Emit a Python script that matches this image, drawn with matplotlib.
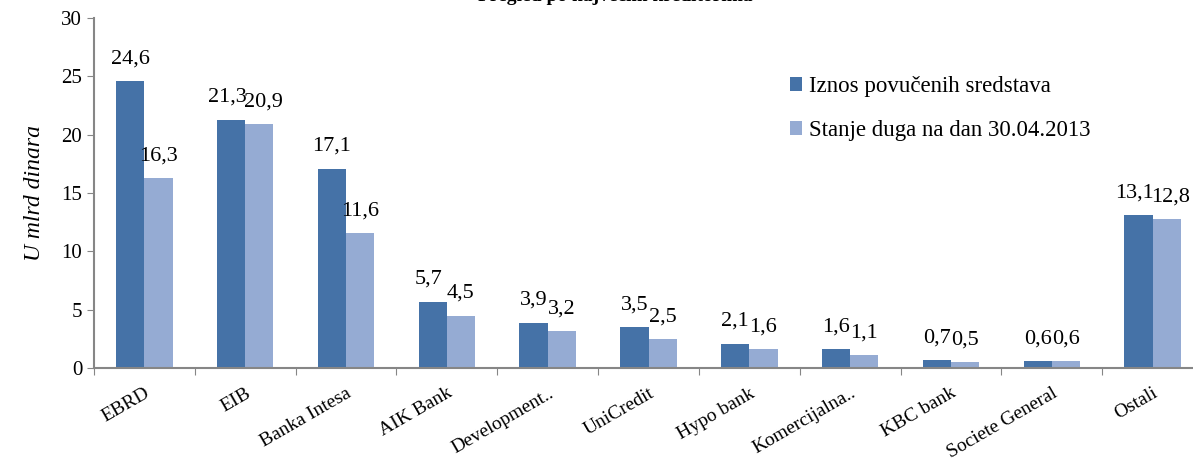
import matplotlib
matplotlib.use('Agg')
import matplotlib.pyplot as plt
import numpy as np

plt.rcParams['font.family'] = ['Liberation Serif', 'DejaVu Serif']

##############################################################################
# Data
##############################################################################
categories = ['EBRD', 'EIB', 'Banka Intesa', 'AIK Bank', 'Development..',
              'UniCredit', 'Hypo bank', 'Komercijalna..', 'KBC bank',
              'Societe General', 'Ostali']
povuceno = [24.6, 21.3, 17.1, 5.7, 3.9, 3.5, 2.1, 1.6, 0.7, 0.6, 13.1]
stanje = [16.3, 20.9, 11.6, 4.5, 3.2, 2.5, 1.6, 1.1, 0.5, 0.6, 12.8]
series_names = ['Iznos povučenih sredstava', 'Stanje duga na dan 30.04.2013']

dark = '#4572A7'
light = '#95ABD3'
gray = '#868686'

##############################################################################
# Plot
##############################################################################
fig = plt.figure(figsize=(11.93, 4.75), dpi=100)
ax = fig.add_axes([94 / 1193, 107 / 475, 1109 / 1193, 350 / 475])

x = np.arange(len(categories))
w = 0.28
b1 = ax.bar(x - w / 2, povuceno, w, color=dark, label=series_names[0])
b2 = ax.bar(x + w / 2, stanje, w, color=light, label=series_names[1])

def fmt(v):
    return ('%.1f' % v).replace('.', ',')

# labels of tall neighbouring bars with near equal height are pushed apart a bit
for bars, vals, other, side in ((b1, povuceno, stanje, -1), (b2, stanje, povuceno, 1)):
    for r, v, o in zip(bars, vals, other):
        dx = 3 * side if (abs(v - o) < 1.5 and v > 5) else 0
        ax.annotate(fmt(v), (r.get_x() + r.get_width() / 2, v),
                    xytext=(dx, 9), textcoords='offset points',
                    ha='center', va='bottom', fontsize=16)

ax.set_xlim(-0.5, len(categories) - 0.5)
ax.set_ylim(0, 30)
ax.set_yticks(range(0, 31, 5))
ax.tick_params(axis='y', labelsize=15, length=5, color=gray, direction='out')

# ticks between groups, labels at group centres
ax.set_xticks(np.arange(len(categories) + 1) - 0.5)
ax.set_xticklabels([])
ax.set_xticks(x, minor=True)
ax.set_xticklabels(categories, minor=True, rotation=30, ha='right',
                   rotation_mode='anchor', fontsize=14)
ax.tick_params(axis='x', which='major', length=5, color=gray, direction='out')
ax.tick_params(axis='x', which='minor', length=0, pad=12)

for s in ('top', 'right'):
    ax.spines[s].set_visible(False)
for s in ('left', 'bottom'):
    ax.spines[s].set_color(gray)
    ax.spines[s].set_linewidth(1.5)

ax.set_ylabel('U mlrd dinara', fontsize=17, style='italic', labelpad=12)

ax.legend(loc='upper left', bbox_to_anchor=(0.619, 0.86), frameon=False,
          fontsize=16.5, handlelength=0.55, handleheight=0.55, handletextpad=0.3,
          labelspacing=1.0, borderaxespad=0)

# title sits mostly above the visible area, as in the source image
fig.text(615 / 1193, 1 - 1 / 475, 'Pregled po najvećim kreditorima',
         ha='center', va='baseline', fontsize=14, fontweight='bold')

fig.savefig('out.png', dpi=100)
